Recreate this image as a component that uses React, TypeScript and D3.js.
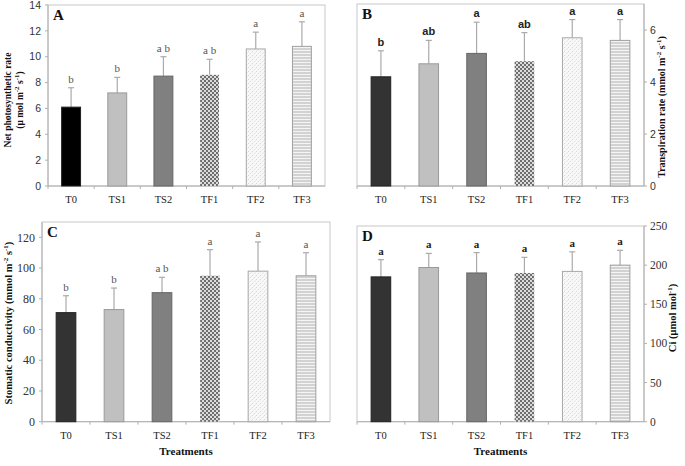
import React from 'react';
import * as d3 from 'd3';

const categories = ['T0', 'TS1', 'TS2', 'TF1', 'TF2', 'TF3'];

const photoMean = [6.1, 7.2, 8.5, 8.6, 10.6, 10.8];
const photoErr = [1.5, 1.2, 1.5, 1.2, 1.3, 1.9];
const photoLetters = ['b', 'b', 'a b', 'a b', 'a', 'a'];
const photoTicks = [0, 2, 4, 6, 8, 10, 12, 14];

const transMean = [4.2, 4.7, 5.1, 4.8, 5.7, 5.6];
const transErr = [1.0, 0.9, 1.2, 1.1, 0.7, 0.8];
const transLetters = ['b', 'ab', 'a', 'ab', 'a', 'a'];
const transTicks = [0, 2, 4, 6];

const condMean = [71, 73, 84, 95, 98, 95];
const condErr = [11, 14, 10, 17, 19, 15];
const condLetters = ['b', 'b', 'a b', 'a', 'a', 'a'];
const condTicks = [0, 20, 40, 60, 80, 100, 120];

const ciMean = [185, 197, 190, 190, 192, 200];
const ciErr = [22, 18, 26, 20, 25, 19];
const ciLetters = ['a', 'a', 'a', 'a', 'a', 'a'];
const ciTicks = [0, 50, 100, 150, 200, 250];

const SERIF = '"Liberation Serif", "DejaVu Serif", serif';
const SANS = '"Liberation Sans", Arial, sans-serif';

type PanelProps = {
  id: string;
  x0: number; x1: number; yBase: number; yTop: number;
  domainMax: number;
  means: number[]; errs: number[]; letters: string[];
  ticks: number[];
  side: 'left' | 'right';
  tickFont: string; tickSize: number;
  letterFont: string; letterWeight: string; letterColor: string; letterSize: number;
  t0Fill: string;
  showTreatments: boolean;
};

const fills = (t0: string) => [
  { fill: t0, stroke: '#222' },
  { fill: '#c0c0c0', stroke: '#9a9a9a' },
  { fill: '#808080', stroke: '#666' },
  { fill: 'url(#checker)', stroke: 'none' },
  { fill: 'url(#diag)', stroke: '#a8a8a8' },
  { fill: 'url(#hlines)', stroke: '#a0a0a0' },
];

function Panel(p: PanelProps) {
  const x = d3.scaleBand<string>().domain(categories).range([p.x0, p.x1]).padding(0);
  const y = d3.scaleLinear().domain([0, p.domainMax]).range([p.yBase, p.yTop]);
  const bw = x.bandwidth() * 0.41;
  const st = fills(p.t0Fill);
  const axisX = p.side === 'left' ? p.x0 : p.x1;
  return (
    <g>
      <rect x={p.x0} y={p.yTop} width={p.x1 - p.x0} height={p.yBase - p.yTop} fill="none" stroke="#c8c8c8" strokeWidth={1} />
      <line x1={axisX} x2={axisX} y1={p.yTop} y2={p.yBase} stroke="#b0b0b0" />
      <line x1={p.x0} x2={p.x1} y1={p.yBase} y2={p.yBase} stroke="#b0b0b0" />
      {p.ticks.map((t) => (
        <g key={t}>
          <line x1={axisX} x2={p.side === 'left' ? axisX - 3 : axisX + 3} y1={y(t)} y2={y(t)} stroke="#b0b0b0" />
          <text x={p.side === 'left' ? axisX - 7 : axisX + 6} y={y(t)} dy="0.35em"
            textAnchor={p.side === 'left' ? 'end' : 'start'}
            fontFamily={p.tickFont} fontSize={p.tickSize} fill="#333">{t}</text>
        </g>
      ))}
      {categories.map((c) => (
        <line key={'xt' + c} x1={x(c) as number} x2={x(c) as number} y1={p.yBase} y2={p.yBase + 3} stroke="#b0b0b0" />
      ))}
      {categories.map((c, i) => {
        const cx = (x(c) as number) + x.bandwidth() / 2;
        const top = y(p.means[i]);
        const et = y(p.means[i] + p.errs[i]);
        return (
          <g key={c}>
            <line x1={cx} x2={cx} y1={top} y2={et} stroke="#aaa" strokeWidth={1.2} />
            <line x1={cx - 3} x2={cx + 3} y1={et} y2={et} stroke="#aaa" strokeWidth={1.2} />
            <rect x={cx - bw / 2} y={top} width={bw} height={p.yBase - top} fill={st[i].fill} stroke={st[i].stroke} strokeWidth={1} />
            <text x={cx} y={et - 5} textAnchor="middle" fontFamily={p.letterFont} fontWeight={p.letterWeight}
              fontSize={p.letterSize} fill={p.letterColor}>{p.letters[i]}</text>
            <text x={cx} y={p.yBase + 17} textAnchor="middle" fontFamily={SERIF} fontSize={10.5} fill="#222">{c}</text>
          </g>
        );
      })}
      <text x={p.x0 + 5} y={p.yTop + 15} fontFamily={SERIF} fontWeight="bold" fontSize={15} fill="#111">{p.id}</text>
      {p.showTreatments && (
        <text x={(p.x0 + p.x1) / 2} y={455} textAnchor="middle" fontFamily={SERIF} fontWeight="bold" fontSize={11} fill="#111">Treatments</text>
      )}
    </g>
  );
}

function Sup({ children }: { children: string }) {
  return <tspan dy={-4} fontSize={7}>{children}</tspan>;
}
function Down() {
  return <tspan dy={4}> </tspan>;
}

export default function App() {
  return (
    <svg width={685} height={466} style={{ position: 'absolute', left: 0, top: 0, background: '#fff' }}>
      <defs>
        <pattern id="checker" patternUnits="userSpaceOnUse" width={4} height={4}>
          <rect width={4} height={4} fill="#dcdcdc" />
          <rect width={2} height={2} fill="#6e6e6e" />
          <rect x={2} y={2} width={2} height={2} fill="#6e6e6e" />
        </pattern>
        <pattern id="diag" patternUnits="userSpaceOnUse" width={4} height={4}>
          <rect width={4} height={4} fill="#f8f8f8" />
          <path d="M0,4 L4,0" stroke="#d8d8d8" strokeWidth={1} strokeDasharray="1.5 1" />
        </pattern>
        <pattern id="hlines" patternUnits="userSpaceOnUse" width={4} height={3}>
          <rect width={4} height={3} fill="#d2d2d2" />
          <rect y={2} width={4} height={1} fill="#f4f4f4" />
        </pattern>
      </defs>

      <Panel id="A" x0={48} x1={325} yBase={186} yTop={5} domainMax={14}
        means={photoMean} errs={photoErr} letters={photoLetters} ticks={photoTicks}
        side="left" tickFont={SANS} tickSize={10.5}
        letterFont={SERIF} letterWeight="normal" letterColor="#555" letterSize={11}
        t0Fill="#000" showTreatments={false} />
      <Panel id="B" x0={357} x1={644} yBase={186} yTop={4} domainMax={7}
        means={transMean} errs={transErr} letters={transLetters} ticks={transTicks}
        side="right" tickFont={SANS} tickSize={10.5}
        letterFont={SANS} letterWeight="bold" letterColor="#222" letterSize={11}
        t0Fill="#333" showTreatments={false} />
      <Panel id="C" x0={42} x1={330} yBase={421.7} yTop={222} domainMax={130}
        means={condMean} errs={condErr} letters={condLetters} ticks={condTicks}
        side="left" tickFont={SERIF} tickSize={12}
        letterFont={SERIF} letterWeight="normal" letterColor="#555" letterSize={11}
        t0Fill="#333" showTreatments={true} />
      <Panel id="D" x0={357} x1={644} yBase={421.7} yTop={226} domainMax={250}
        means={ciMean} errs={ciErr} letters={ciLetters} ticks={ciTicks}
        side="right" tickFont={SERIF} tickSize={11.5}
        letterFont={SERIF} letterWeight="bold" letterColor="#222" letterSize={11}
        t0Fill="#333" showTreatments={true} />

      <text transform="translate(11,100) rotate(-90)" textAnchor="middle" fontFamily={SERIF} fontWeight="bold" fontSize={9.5} fill="#111">
        Net photosynthetic rate
      </text>
      <text transform="translate(23,100) rotate(-90)" textAnchor="middle" fontFamily={SERIF} fontWeight="bold" fontSize={9.5} fill="#111">
        (μ mol m<Sup>-2</Sup><Down /> s<Sup>-1</Sup><tspan dy={4}>)</tspan>
      </text>
      <text transform="translate(665,107) rotate(-90)" textAnchor="middle" fontFamily={SERIF} fontWeight="bold" fontSize={10} fill="#111">
        Transpiration rate (mmol m<Sup>-2</Sup><Down />s<Sup>-1</Sup><tspan dy={4}>)</tspan>
      </text>
      <text transform="translate(12,323) rotate(-90)" textAnchor="middle" fontFamily={SERIF} fontWeight="bold" fontSize={10.5} fill="#111">
        Stomatic conductivity (mmol m<Sup>-2</Sup><Down />s<Sup>-1</Sup><tspan dy={4}>)</tspan>
      </text>
      <text transform="translate(676,318) rotate(-90)" textAnchor="middle" fontFamily={SERIF} fontWeight="bold" fontSize={10.5} fill="#111">
        Ci  (μmol mol<Sup>-1</Sup><tspan dy={4}>)</tspan>
      </text>
    </svg>
  );
}
